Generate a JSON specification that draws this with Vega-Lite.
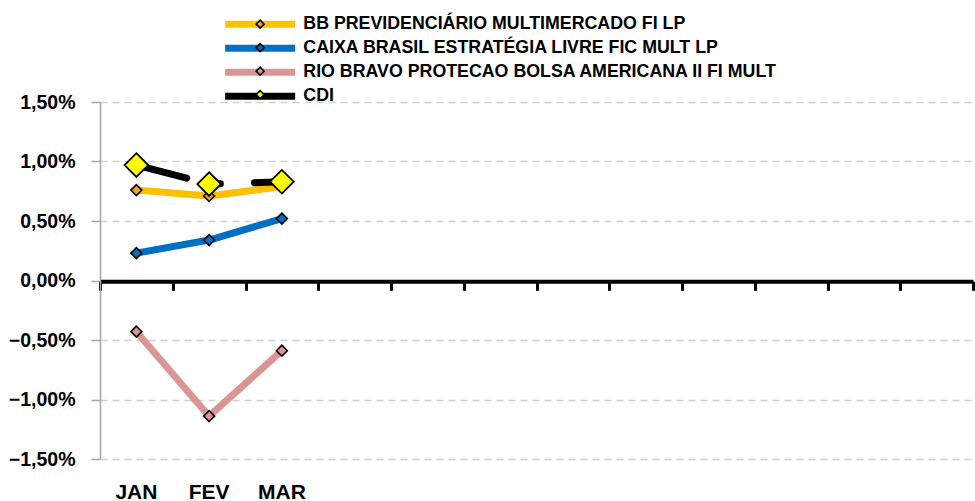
{
  "$schema": "https://vega.github.io/schema/vega-lite/v6.json",
  "autosize": {"type": "none"},
  "padding": {"left": 100, "top": 102, "right": 2, "bottom": 42},
  "width": 873,
  "height": 357,
  "background": "white",
  "title": {"text": "RENTABILIDADE MENSAL", "anchor": "middle", "dx": -43, "offset": 11.5, "font": "Liberation Sans", "fontSize": 20, "fontWeight": "bold", "color": "#000000"},
  "config": {
    "view": {"stroke": null},
    "locale": {"number": {"decimal": ",", "thousands": ".", "grouping": [3], "currency": ["R$", ""]}},
    "font": "Liberation Sans"
  },
  "data": {"values": [
    {"month": "JAN", "series": "BB PREVIDENCIÁRIO MULTIMERCADO FI LP", "value": 0.0076},
    {"month": "FEV", "series": "BB PREVIDENCIÁRIO MULTIMERCADO FI LP", "value": 0.0071},
    {"month": "MAR", "series": "BB PREVIDENCIÁRIO MULTIMERCADO FI LP", "value": 0.0079},
    {"month": "JAN", "series": "CAIXA BRASIL ESTRATÉGIA LIVRE FIC MULT LP", "value": 0.0023},
    {"month": "FEV", "series": "CAIXA BRASIL ESTRATÉGIA LIVRE FIC MULT LP", "value": 0.0034},
    {"month": "MAR", "series": "CAIXA BRASIL ESTRATÉGIA LIVRE FIC MULT LP", "value": 0.0052},
    {"month": "JAN", "series": "RIO BRAVO PROTECAO BOLSA AMERICANA II FI MULT", "value": -0.0043},
    {"month": "FEV", "series": "RIO BRAVO PROTECAO BOLSA AMERICANA II FI MULT", "value": -0.0114},
    {"month": "MAR", "series": "RIO BRAVO PROTECAO BOLSA AMERICANA II FI MULT", "value": -0.0059},
    {"month": "JAN", "series": "CDI", "value": 0.0097},
    {"month": "FEV", "series": "CDI", "value": 0.0081},
    {"month": "MAR", "series": "CDI", "value": 0.0083}
  ]},
  "resolve": {"axis": {"x": "independent"}},
  "encoding": {
    "x": {"field": "month", "type": "nominal", "sort": null, "axis": null,
      "scale": {"type": "band", "domain": ["JAN","FEV","MAR","ABR","MAI","JUN","JUL","AGO","SET","OUT","NOV","DEZ"], "paddingInner": 0, "paddingOuter": 0}},
    "y": {"field": "value", "type": "quantitative",
      "scale": {"domain": [-0.015, 0.015], "nice": false, "zero": false},
      "axis": {"title": null, "values": [-0.015, -0.01, -0.005, 0, 0.005, 0.01, 0.015], "format": ".2%",
        "labelFont": "Liberation Sans", "labelFontSize": 19.5, "labelFontWeight": "bold", "labelColor": "#000000", "labelPadding": 16,
        "tickSize": 9, "tickColor": "#A6A6A6", "tickWidth": 1.5, "domainColor": "#A6A6A6", "domainWidth": 1.5,
        "grid": true, "gridColor": "#D0D0D0", "gridWidth": 1.5, "gridDash": [7, 5]}}
  },
  "layer": [
    {
      "transform": [{"filter": "datum.series !== 'CDI'"}],
      "mark": {"type": "line", "strokeWidth": 7, "strokeJoin": "round", "strokeCap": "round"},
      "encoding": {
        "x": {"field": "month", "type": "nominal", "sort": null,
          "scale": {"type": "band", "domain": ["JAN","FEV","MAR","ABR","MAI","JUN","JUL","AGO","SET","OUT","NOV","DEZ"], "paddingInner": 0, "paddingOuter": 0},
          "axis": {"orient": "bottom", "title": null, "domain": false, "ticks": false, "grid": false, "labelAngle": 0,
            "labelExpr": "indexof(['JAN','FEV','MAR'], datum.value) >= 0 ? datum.value : ''",
            "labelFont": "Liberation Sans", "labelFontSize": 21, "labelFontWeight": "bold", "labelColor": "#000000", "labelPadding": 22}},
        "color": {"field": "series", "type": "nominal",
          "scale": {"domain": ["BB PREVIDENCIÁRIO MULTIMERCADO FI LP", "CAIXA BRASIL ESTRATÉGIA LIVRE FIC MULT LP", "RIO BRAVO PROTECAO BOLSA AMERICANA II FI MULT", "CDI"],
                    "range": ["#FFC000", "#0070C0", "#DA9694", "#000000"]},
          "legend": {"orient": "none", "legendX": 151.25, "legendY": -86.75, "title": null, "padding": 0,
            "symbolType": "M-10,0H10", "symbolSize": 49, "symbolStrokeWidth": 7, "labelOffset": 34.25, "rowPadding": -5,
            "labelFont": "Liberation Sans", "labelFontSize": 17.8, "labelFontWeight": "bold", "labelColor": "#000000", "labelLimit": 0}}
      }
    },
    {
      "transform": [{"filter": "datum.series === 'CDI'"}],
      "mark": {"type": "line", "strokeWidth": 7, "strokeCap": "round", "strokeJoin": "round", "strokeDash": [52, 34, 0.5, 34]},
      "encoding": {
        "color": {"field": "series", "type": "nominal"}
      }
    },
    {
      "transform": [{"filter": "datum.series !== 'CDI'"}],
      "mark": {"type": "point", "shape": "diamond", "filled": true, "size": 120, "stroke": "#000000", "strokeWidth": 1.6, "opacity": 1},
      "encoding": {
        "x": {"field": "month", "type": "nominal", "sort": null,
          "scale": {"type": "band", "domain": ["JAN","FEV","MAR","ABR","MAI","JUN","JUL","AGO","SET","OUT","NOV","DEZ"], "paddingInner": 0, "paddingOuter": 0},
          "axis": {"orient": "top", "offset": -179.3, "title": null, "labels": false, "grid": false,
            "domain": true, "domainColor": "#000000", "domainWidth": 4,
            "ticks": true, "tickBand": "extent", "tickColor": "#000000", "tickWidth": 3, "tickSize": -9}},
        "fill": {"field": "series", "type": "nominal",
          "sort": ["BB PREVIDENCIÁRIO MULTIMERCADO FI LP", "CAIXA BRASIL ESTRATÉGIA LIVRE FIC MULT LP", "RIO BRAVO PROTECAO BOLSA AMERICANA II FI MULT", "CDI"],
          "scale": {"range": ["#F4A21D", "#0070C0", "#DA9694", "#FFFF00"]},
          "legend": {"orient": "none", "legendX": 151.25, "legendY": -86.75, "title": null, "padding": 0,
            "symbolType": "diamond", "symbolSize": 64, "symbolStrokeColor": "#000000", "symbolStrokeWidth": 1.5, "symbolOpacity": 1,
            "labelOffset": 34.25, "rowPadding": 4.5, "labelOpacity": 0,
            "labelFont": "Liberation Sans", "labelFontSize": 17.8, "labelFontWeight": "bold", "labelLimit": 0}}
      }
    },
    {
      "transform": [{"filter": "datum.series === 'CDI'"}],
      "mark": {"type": "point", "shape": "diamond", "filled": true, "size": 560, "stroke": "#000000", "strokeWidth": 1.8, "opacity": 1},
      "encoding": {
        "fill": {"field": "series", "type": "nominal",
          "sort": ["BB PREVIDENCIÁRIO MULTIMERCADO FI LP", "CAIXA BRASIL ESTRATÉGIA LIVRE FIC MULT LP", "RIO BRAVO PROTECAO BOLSA AMERICANA II FI MULT", "CDI"]}
      }
    }
  ]
}
